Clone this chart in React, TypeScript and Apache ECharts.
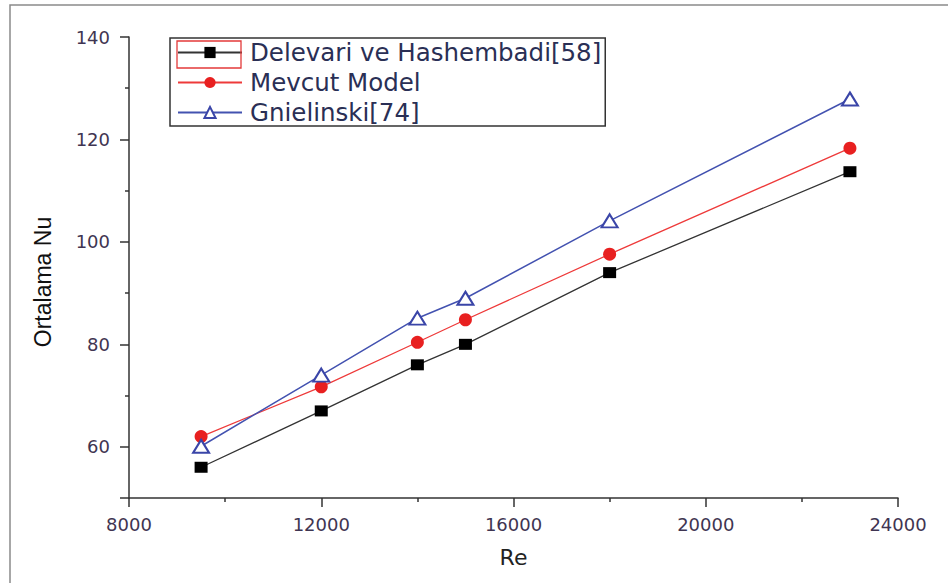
import React, { useEffect, useRef } from "react";
import * as echarts from "echarts";

const reValues = [9500, 12000, 14000, 15000, 18000, 23000];
const delevari = [56, 67, 76, 80, 94, 113.7];
const mevcut = [62, 71.7, 80.4, 84.8, 97.6, 118.3];
const gnielinski = [60.1, 74, 85.1, 89, 104.1, 127.9];
const seriesNames = ["Delevari ve Hashembadi[58]", "Mevcut Model", "Gnielinski[74]"];
const xTitle = "Re";
const yTitle = "Ortalama Nu";

const tickColor = "#3f3552";

export default function App() {
  const ref = useRef<HTMLDivElement>(null);
  useEffect(() => {
    if (!ref.current) return;
    const chart = echarts.init(ref.current, null, { renderer: "svg" });
    const pair = (ys: number[]) => reValues.map((x, i) => [x, ys[i]]);
    chart.setOption({
      animation: false,
      backgroundColor: "#ffffff",
      grid: { left: 129, top: 37, width: 769, height: 461, containLabel: false },
      xAxis: {
        type: "value",
        min: 8000,
        max: 24000,
        interval: 4000,
        name: xTitle,
        nameLocation: "middle",
        nameGap: 48,
        nameTextStyle: { fontFamily: "DejaVu Sans", fontSize: 22, color: "#222" },
        axisLine: { show: true, lineStyle: { color: "#333", width: 1.5 } },
        axisTick: { show: true, length: 9, inside: false, lineStyle: { color: "#333", width: 1.5 } },
        minorTick: { show: true, splitNumber: 2, length: 4, lineStyle: { color: "#333", width: 1.5 } },
        splitLine: { show: false },
        axisLabel: {
          margin: 17,
          fontFamily: "DejaVu Sans",
          fontSize: 18,
          color: tickColor,
          formatter: (v: number) => String(v),
        },
      },
      yAxis: {
        type: "value",
        min: 50,
        max: 140,
        splitNumber: 5,
        axisLine: { show: true, lineStyle: { color: "#333", width: 1.5 } },
        axisTick: { show: true, length: 9, lineStyle: { color: "#333", width: 1.5 } },
        minorTick: { show: true, splitNumber: 2, length: 4, lineStyle: { color: "#333", width: 1.5 } },
        splitLine: { show: false },
        axisLabel: {
          margin: 19,
          fontFamily: "DejaVu Sans",
          fontSize: 18,
          color: tickColor,
          showMinLabel: false,
          formatter: (v: number) => (v % 20 === 0 ? String(v) : ""),
        },
      },
      legend: {
        orient: "vertical",
        left: 170,
        top: 38,
        padding: [2, 4, 1, 7],
        itemWidth: 64,
        itemHeight: 14,
        itemGap: 5,
        borderColor: "#333",
        borderWidth: 1.5,
        backgroundColor: "#fff",
        textStyle: {
          fontFamily: "DejaVu Sans",
          fontSize: 24.5,
          lineHeight: 24,
          color: "#2a2f55",
          padding: [0, 0, 0, 3],
        },
        data: seriesNames,
      },
      series: [
        {
          name: seriesNames[0],
          type: "line",
          data: pair(delevari),
          symbol: "rect",
          symbolSize: [13, 11],
          lineStyle: { color: "#333", width: 1.3 },
          itemStyle: { color: "#000" },
          z: 3,
        },
        {
          name: seriesNames[1],
          type: "line",
          data: pair(mevcut),
          symbol: "circle",
          symbolSize: 13,
          lineStyle: { color: "#ee3a3a", width: 1.3 },
          itemStyle: { color: "#e82020" },
          z: 4,
        },
        {
          name: seriesNames[2],
          type: "line",
          data: pair(gnielinski),
          symbol: "emptyTriangle",
          symbolSize: [16, 13],
          lineStyle: { color: "#4352b0", width: 1.5 },
          itemStyle: { color: "#3a45a8", borderWidth: 2 },
          z: 5,
        },
      ],
      graphic: [
        {
          type: "rect",
          shape: { x: 10, y: 5, width: 1200, height: 900 },
          style: { fill: "none", stroke: "#8a8a8a", lineWidth: 1.5 },
          silent: true,
          z: 0,
        },
        {
          type: "rect",
          shape: { x: 177, y: 41, width: 64, height: 27 },
          style: { fill: "none", stroke: "#e33a3a", lineWidth: 1.3 },
          silent: true,
          z: 100,
        },
        {
          type: "text",
          x: 43,
          y: 282,
          rotation: Math.PI / 2,
          style: {
            text: yTitle,
            fontFamily: "Liberation Sans",
            fontSize: 23,
            fill: "#111",
            align: "center",
            verticalAlign: "middle",
          },
        },
      ],
    });
    return () => chart.dispose();
  }, []);
  return (
    <div
      ref={ref}
      style={{ position: "fixed", left: 0, top: 0, width: 948, height: 583, background: "#fff" }}
    />
  );
}
